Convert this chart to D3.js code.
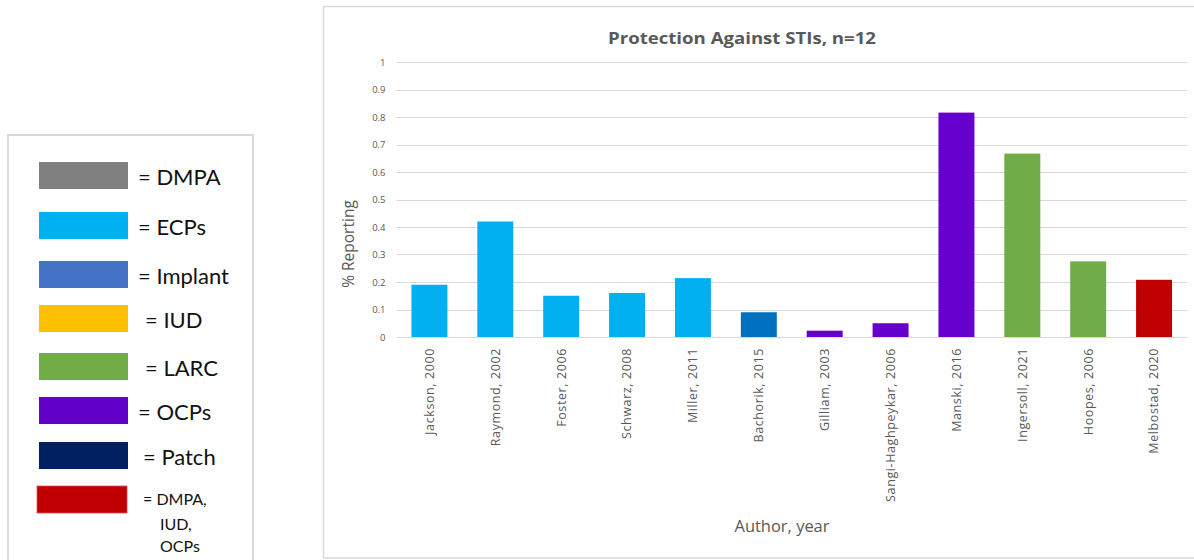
<!DOCTYPE html>
<html>
<head>
<meta charset="utf-8">
<script src="https://cdn.jsdelivr.net/npm/d3@7"></script>
<style>
  html, body { margin: 0; padding: 0; background: #fff; }
  svg { display: block; }
</style>
</head>
<body>
<svg id="chart" width="1194" height="560"></svg>
<script>
// Studies (x categories), share reporting protection against STIs, and the method each study covered
const authors = [
  "Jackson, 2000", "Raymond, 2002", "Foster, 2006", "Schwarz, 2008",
  "Miller, 2011", "Bachorik, 2015", "Gilliam, 2003", "Sangi-Haghpeykar, 2006",
  "Manski, 2016", "Ingersoll, 2021", "Hoopes, 2006", "Melbostad, 2020"
];
const reporting = [0.19, 0.42, 0.15, 0.16, 0.214, 0.09, 0.023, 0.05, 0.816, 0.667, 0.275, 0.208];
const studyMethod = ["ECPs", "ECPs", "ECPs", "ECPs", "ECPs", "Implant", "OCPs", "OCPs", "OCPs", "LARC", "LARC", "Combo"];

// Legend entries
const legendKeys = ["DMPA", "ECPs", "Implant", "IUD", "LARC", "OCPs", "Patch", "Combo"];
const legendLabels = [["= DMPA"], ["= ECPs"], ["= Implant"], ["= IUD"], ["= LARC"], ["= OCPs"], ["= Patch"], ["= DMPA,", "IUD,", "OCPs"]];

// Y axis ticks
const yTicks = [0, 0.1, 0.2, 0.3, 0.4, 0.5, 0.6, 0.7, 0.8, 0.9, 1];

// Colours
const legendColor = {
  DMPA: "#808080", ECPs: "#00B0F0", Implant: "#4472C4", IUD: "#FFC000",
  LARC: "#70AD47", OCPs: "#6000C8", Patch: "#002060", Combo: "#C00000"
};
const barColor = { ECPs: "#00B0F0", Implant: "#0070C0", OCPs: "#6600CC", LARC: "#70AD47", Combo: "#C00000" };

const svg = d3.select("#chart");
const textGray = "#595959";

// ---------- Legend panel ----------
svg.append("rect")
  .attr("x", 8).attr("y", 135).attr("width", 245).attr("height", 440)
  .attr("fill", "#fff").attr("stroke", "#d9d9d9").attr("stroke-width", 2);

const legendRowTop = [162, 212, 261, 305, 353, 397, 442, 486];
const legendTextX = [138, 138, 138, 145, 145, 138, 143, 143];

const lg = svg.append("g").attr("font-family", "Lato, 'Open Sans', sans-serif").attr("fill", "#111");
legendKeys.forEach((k, i) => {
  const top = legendRowTop[i];
  const isCombo = k === "Combo";
  lg.append("rect")
    .attr("x", isCombo ? 37 : 39).attr("y", top)
    .attr("width", isCombo ? 90 : 89).attr("height", 27)
    .attr("fill", legendColor[k])
    .attr("stroke", isCombo ? "#e05050" : "none").attr("stroke-width", isCombo ? 0.8 : 0);
  if (!isCombo) {
    lg.append("text")
      .attr("x", legendTextX[i]).attr("y", top + 14)
      .attr("dominant-baseline", "central")
      .attr("font-size", 22)
      .text(legendLabels[i][0]);
  } else {
    const lines = legendLabels[i];
    const lineY = [top + 12, top + 37, top + 59];
    const lineX = [legendTextX[i], legendTextX[i] + 17, legendTextX[i] + 17];
    lines.forEach((t, j) => {
      lg.append("text")
        .attr("x", lineX[j]).attr("y", lineY[j])
        .attr("dominant-baseline", "central")
        .attr("font-size", 16)
        .text(t);
    });
  }
});

// ---------- Chart area ----------
svg.append("rect")
  .attr("x", 323.5).attr("y", 6.5).attr("width", 880).attr("height", 551.5)
  .attr("fill", "#fff").attr("stroke", "#d9d9d9").attr("stroke-width", 1.5);

const plotLeft = 396.5, plotRight = 1187, plotTop = 62, plotBottom = 337;

const x = d3.scaleBand()
  .domain(authors)
  .range([plotLeft, plotRight])
  .paddingInner(0.454)
  .paddingOuter(0.227);

const y = d3.scaleLinear().domain([0, 1]).range([plotBottom, plotTop]);

// gridlines
svg.append("g")
  .selectAll("line")
  .data(yTicks)
  .join("line")
  .attr("x1", plotLeft).attr("x2", plotRight)
  .attr("y1", d => Math.round(y(d)) + 0.5).attr("y2", d => Math.round(y(d)) + 0.5)
  .attr("stroke", "#d9d9d9").attr("stroke-width", 1);

// y axis labels
const yAxis = d3.axisLeft(y).tickValues(yTicks).tickSize(0).tickPadding(0)
  .tickFormat(d => d === 0 ? "0" : d === 1 ? "1" : d3.format(".1f")(d));
const yg = svg.append("g").attr("transform", `translate(${plotLeft - 11},0)`).call(yAxis);
yg.select(".domain").remove();
yg.selectAll("text")
  .attr("fill", textGray)
  .attr("font-family", "'Open Sans', sans-serif")
  .attr("font-size", 9.5);

// bars
svg.append("g")
  .selectAll("rect")
  .data(authors)
  .join("rect")
  .attr("x", d => x(d))
  .attr("width", x.bandwidth())
  .attr("y", (d, i) => y(reporting[i]))
  .attr("height", (d, i) => y(0) - y(reporting[i]))
  .attr("fill", (d, i) => barColor[studyMethod[i]]);

// x axis labels
const xAxis = d3.axisBottom(x).tickSize(0).tickPadding(0);
const xg = svg.append("g").attr("transform", `translate(0,${plotBottom + 11})`).call(xAxis);
xg.select(".domain").remove();
xg.selectAll("text")
  .attr("transform", "rotate(-90)")
  .attr("text-anchor", "end")
  .attr("dy", "0.35em")
  .attr("x", 0).attr("y", 0)
  .attr("fill", textGray)
  .attr("font-family", "'Open Sans', sans-serif")
  .attr("font-size", 12.5)
  .attr("letter-spacing", 0.6);

// title
svg.append("text")
  .attr("x", 742).attr("y", 44)
  .attr("text-anchor", "middle")
  .attr("font-family", "'Open Sans', sans-serif")
  .attr("font-weight", 700)
  .attr("font-size", 16.5)
  .attr("fill", textGray)
  .attr("textLength", 268).attr("lengthAdjust", "spacingAndGlyphs")
  .text("Protection Against STIs, n=12");

// y axis title
svg.append("text")
  .attr("transform", `translate(348,244) rotate(-90)`)
  .attr("text-anchor", "middle")
  .attr("dominant-baseline", "central")
  .attr("font-family", "'Open Sans', sans-serif")
  .attr("font-size", 15.5)
  .attr("fill", textGray)
  .text("% Reporting");

// x axis title
svg.append("text")
  .attr("x", 782).attr("y", 532)
  .attr("text-anchor", "middle")
  .attr("font-family", "'Open Sans', sans-serif")
  .attr("font-size", 15.5)
  .attr("fill", textGray)
  .attr("textLength", 95).attr("lengthAdjust", "spacingAndGlyphs")
  .text("Author, year");
</script>
</body>
</html>
